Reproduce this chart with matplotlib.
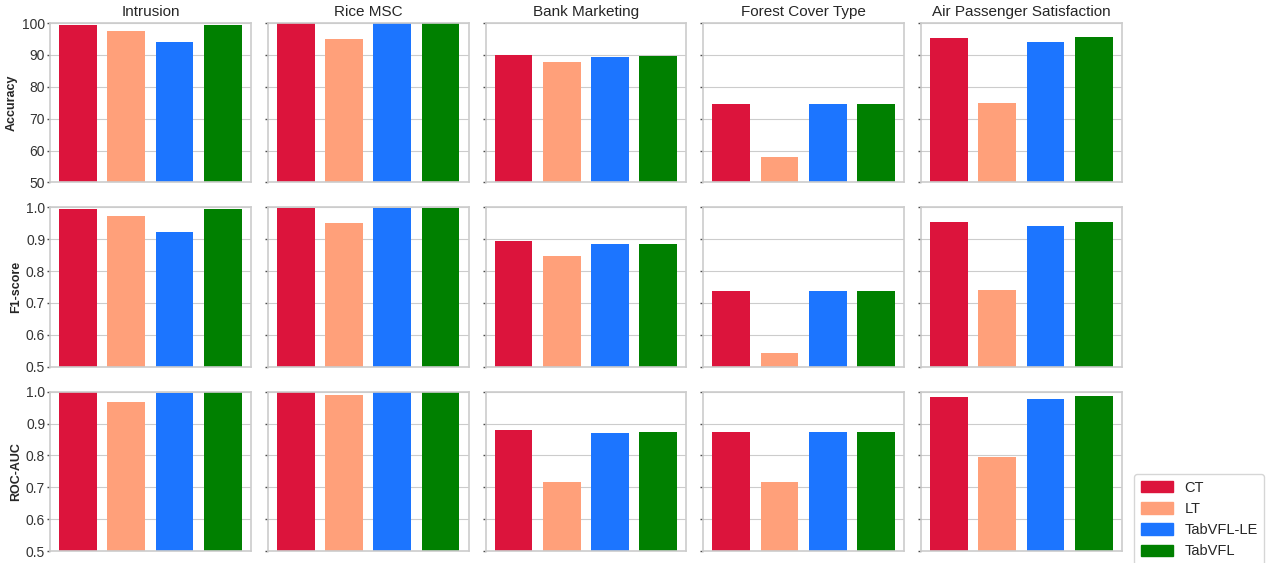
import matplotlib.pyplot as plt
from matplotlib.patches import Patch

# results per dataset, order: CT, LT, TabVFL-LE, TabVFL
datasets = ["Intrusion", "Rice MSC", "Bank Marketing", "Forest Cover Type", "Air Passenger Satisfaction"]
methods = ["CT", "LT", "TabVFL-LE", "TabVFL"]
colors = ["#dc143c", "#ffa07a", "#1c75ff", "#008000"]

accuracy = [
    [99.4, 97.5, 94.0, 99.4],
    [99.9, 95.0, 99.9, 99.9],
    [89.9, 87.7, 89.3, 89.6],
    [74.5, 57.9, 74.5, 74.5],
    [95.3, 74.8, 94.0, 95.6],
]
f1_score = [
    [0.995, 0.973, 0.922, 0.995],
    [0.999, 0.951, 0.999, 0.999],
    [0.894, 0.847, 0.885, 0.885],
    [0.737, 0.542, 0.737, 0.737],
    [0.954, 0.740, 0.941, 0.954],
]
roc_auc = [
    [0.999, 0.968, 0.996, 0.998],
    [1.000, 0.990, 1.000, 1.000],
    [0.880, 0.717, 0.871, 0.874],
    [0.874, 0.717, 0.874, 0.874],
    [0.983, 0.795, 0.977, 0.986],
]

metrics = [("Accuracy", accuracy, (50, 100)),
           ("F1-score", f1_score, (0.5, 1.0)),
           ("ROC-AUC", roc_auc, (0.5, 1.0))]

plt.style.use("seaborn-v0_8-whitegrid")
plt.rcParams["font.family"] = ["Liberation Sans", "DejaVu Sans"]

fig, axes = plt.subplots(3, 5, figsize=(12.69, 5.63), dpi=100, sharey="row")
fig.subplots_adjust(left=0.0394, right=0.884, top=0.959, bottom=0.0213,
                    wspace=0.0846, hspace=0.157)

for r, (name, values, lim) in enumerate(metrics):
    for c, dataset in enumerate(datasets):
        ax = axes[r, c]
        ax.bar(range(len(methods)), values[c], width=0.78, color=colors)
        ax.set_ylim(*lim)
        ax.set_xticks([])
        ax.grid(axis="x", visible=False)
        ax.tick_params(axis="y", left=True, length=2.5, width=1, color="0.3",
                       labelsize=10, labelcolor="0.2", pad=1)
        for spine in ax.spines.values():
            spine.set_color("0.8")
            spine.set_linewidth(1.2)
        if r == 0:
            ax.set_title(dataset, fontsize=11, color="0.15", pad=5)
        if c == 0:
            ax.set_ylabel(name, fontsize=9, fontweight="bold", color="0.15",
                          labelpad=3)

handles = [Patch(color=col, label=m) for col, m in zip(colors, methods)]
fig.legend(handles=handles, loc="upper left", bbox_to_anchor=(0.8936, 0.158),
           borderaxespad=0, fontsize=10.5, frameon=True, facecolor="white",
           edgecolor="0.8", handlelength=2.2, handleheight=0.85,
           borderpad=0.45, labelspacing=0.5, handletextpad=0.8)

plt.savefig("out.png", dpi=100)
